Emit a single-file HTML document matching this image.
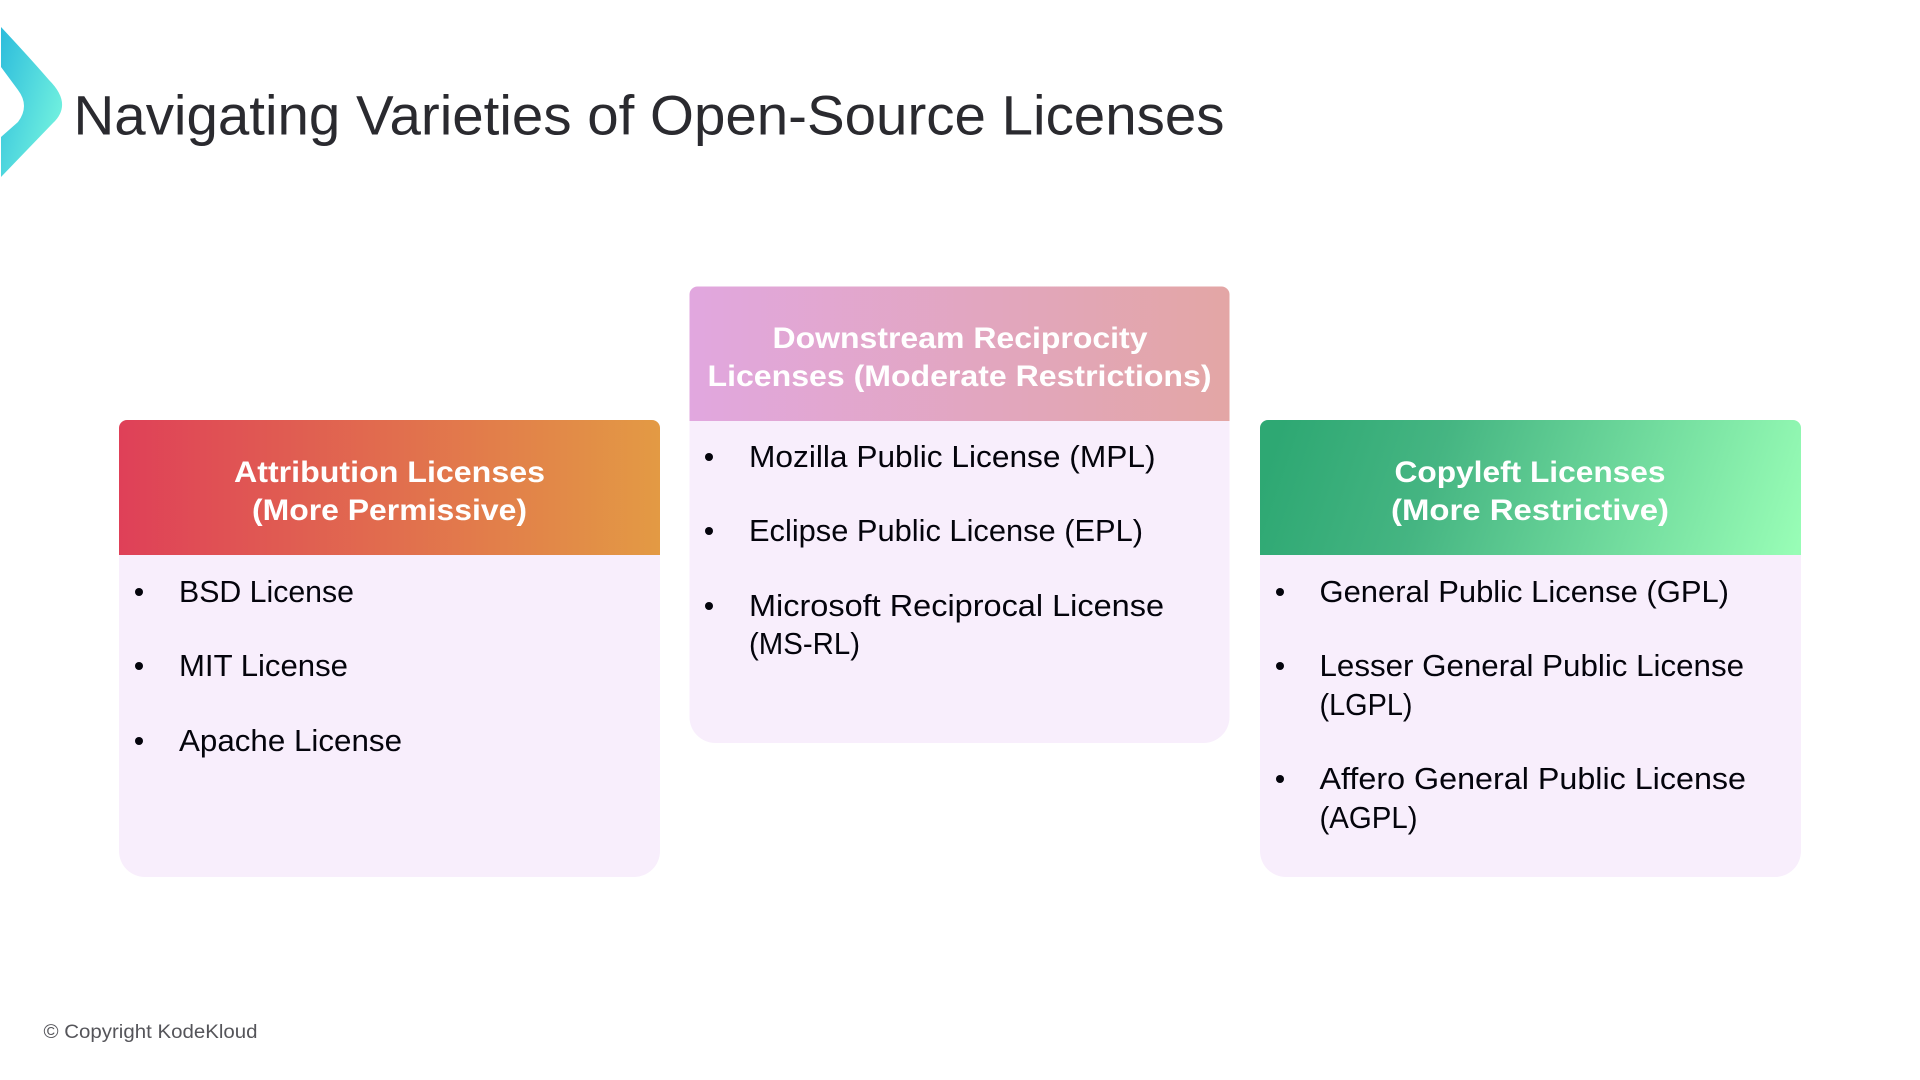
<!DOCTYPE html>
<html lang="en">
<head>
<meta charset="utf-8">
<title>Navigating Varieties of Open-Source Licenses</title>
<style>
html,body{margin:0;padding:0;background:#fff;width:1920px;height:1080px;overflow:hidden}
svg{display:block}
text{font-family:"Liberation Sans",sans-serif}
.h{font-size:30px;font-weight:700;fill:#fff}
.b{font-size:30.5px;fill:#04040c}
</style>
</head>
<body>
<svg width="1920" height="1080" viewBox="0 0 1920 1080" xmlns="http://www.w3.org/2000/svg">
<defs>
<linearGradient id="chev" x1="0" y1="0" x2="1" y2="0.7"><stop offset="0" stop-color="#2cbcdc"/><stop offset="1" stop-color="#74f3df"/></linearGradient>
<linearGradient id="g1" x1="0" y1="0" x2="1" y2="0"><stop offset="0" stop-color="#df4058"/><stop offset="1" stop-color="#e39a44"/></linearGradient>
<linearGradient id="g2" x1="0" y1="0" x2="1" y2="0"><stop offset="0" stop-color="#e1a7df"/><stop offset="1" stop-color="#e3a6a5"/></linearGradient>
<linearGradient id="g3" gradientUnits="userSpaceOnUse" x1="1290" y1="400" x2="1790" y2="570"><stop offset="0" stop-color="#2ea873"/><stop offset="0.3" stop-color="#45b582"/><stop offset="1" stop-color="#98fdb6"/></linearGradient>
</defs>

<path d="M1 27 Q30 58 49 80 Q73 104 53 123 L1 177 V137 L18 122 Q30 106 18 90 L1 67 Z" fill="url(#chev)"/>
<text x="73.5" y="134.5" font-size="56" fill="#2a2a2f" textLength="1151" lengthAdjust="spacingAndGlyphs">Navigating Varieties of Open-Source Licenses</text>

<!-- Left card -->
<path d="M119 555 H660 V851 a26 26 0 0 1 -26 26 H145 a26 26 0 0 1 -26 -26 Z" fill="#f8eefc"/>
<path d="M127 420 H652 a8 8 0 0 1 8 8 V555 H119 V428 a8 8 0 0 1 8 -8 Z" fill="url(#g1)"/>
<text class="h" x="234" y="482" textLength="311" lengthAdjust="spacingAndGlyphs">Attribution Licenses</text>
<text class="h" x="252" y="520" textLength="275" lengthAdjust="spacingAndGlyphs">(More Permissive)</text>
<circle cx="139" cy="592" r="4" fill="#04040c"/>
<circle cx="139" cy="666" r="4" fill="#04040c"/>
<circle cx="139" cy="741" r="4" fill="#04040c"/>
<text class="b" x="179" y="602" textLength="175" lengthAdjust="spacingAndGlyphs">BSD License</text>
<text class="b" x="179" y="676" textLength="169" lengthAdjust="spacingAndGlyphs">MIT License</text>
<text class="b" x="179" y="751" textLength="223" lengthAdjust="spacingAndGlyphs">Apache License</text>

<!-- Middle card -->
<path d="M689.5 421 H1229.5 V717 a26 26 0 0 1 -26 26 H715.5 a26 26 0 0 1 -26 -26 Z" fill="#f8eefc"/>
<path d="M697.5 286.5 H1221.5 a8 8 0 0 1 8 8 V421 H689.5 V294.5 a8 8 0 0 1 8 -8 Z" fill="url(#g2)"/>
<text class="h" x="772.5" y="348" textLength="375" lengthAdjust="spacingAndGlyphs">Downstream Reciprocity</text>
<text class="h" x="707.5" y="386" textLength="504" lengthAdjust="spacingAndGlyphs">Licenses (Moderate Restrictions)</text>
<circle cx="709" cy="457" r="4" fill="#04040c"/>
<circle cx="709" cy="531" r="4" fill="#04040c"/>
<circle cx="709" cy="606" r="4" fill="#04040c"/>
<text class="b" x="749" y="467" textLength="406.5" lengthAdjust="spacingAndGlyphs">Mozilla Public License (MPL)</text>
<text class="b" x="749" y="541" textLength="394" lengthAdjust="spacingAndGlyphs">Eclipse Public License (EPL)</text>
<text class="b" x="749" y="616" textLength="415" lengthAdjust="spacingAndGlyphs">Microsoft Reciprocal License</text>
<text class="b" x="749" y="654" textLength="111" lengthAdjust="spacingAndGlyphs">(MS-RL)</text>

<!-- Right card -->
<path d="M1260 555 H1801 V851 a26 26 0 0 1 -26 26 H1286 a26 26 0 0 1 -26 -26 Z" fill="#f8eefc"/>
<path d="M1268 420 H1793 a8 8 0 0 1 8 8 V555 H1260 V428 a8 8 0 0 1 8 -8 Z" fill="url(#g3)"/>
<text class="h" x="1394.5" y="482" textLength="271" lengthAdjust="spacingAndGlyphs">Copyleft Licenses</text>
<text class="h" x="1391" y="520" textLength="278" lengthAdjust="spacingAndGlyphs">(More Restrictive)</text>
<circle cx="1280" cy="592" r="4" fill="#04040c"/>
<circle cx="1280" cy="666" r="4" fill="#04040c"/>
<circle cx="1280" cy="779" r="4" fill="#04040c"/>
<text class="b" x="1319.5" y="602" textLength="409.5" lengthAdjust="spacingAndGlyphs">General Public License (GPL)</text>
<text class="b" x="1319.5" y="676" textLength="424.5" lengthAdjust="spacingAndGlyphs">Lesser General Public License</text>
<text class="b" x="1319.5" y="715" textLength="93" lengthAdjust="spacingAndGlyphs">(LGPL)</text>
<text class="b" x="1319.5" y="789" textLength="426.5" lengthAdjust="spacingAndGlyphs">Affero General Public License</text>
<text class="b" x="1319.5" y="828" textLength="98" lengthAdjust="spacingAndGlyphs">(AGPL)</text>

<text x="43.5" y="1038" font-size="19" fill="#55555a" textLength="214" lengthAdjust="spacingAndGlyphs">© Copyright KodeKloud</text>
</svg>
</body>
</html>
